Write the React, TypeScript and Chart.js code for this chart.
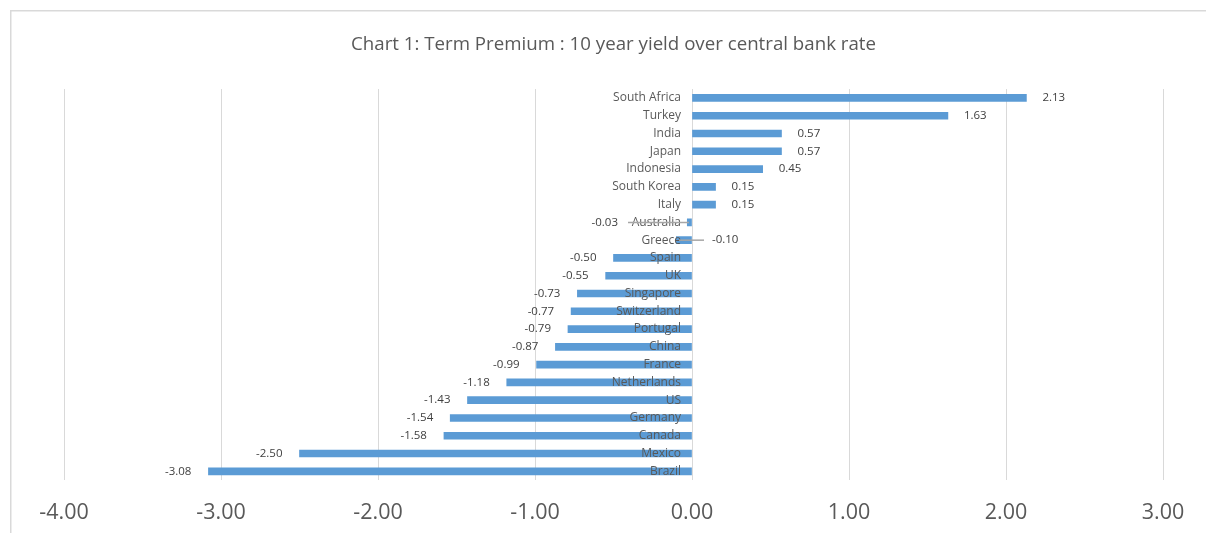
import React, { useEffect, useRef } from "react";
import { Chart, registerables } from "chart.js";

Chart.register(...registerables);

const TITLE = "Chart 1: Term Premium : 10 year yield over central bank rate";

const categories = [
  "South Africa", "Turkey", "India", "Japan", "Indonesia", "South Korea", "Italy",
  "Australia", "Greece", "Spain", "UK", "Singapore", "Switzerland", "Portugal",
  "China", "France", "Netherlands", "US", "Germany", "Canada", "Mexico", "Brazil",
];

const premiumValues = [
  2.13, 1.63, 0.57, 0.57, 0.45, 0.15, 0.15,
  -0.03, -0.1, -0.5, -0.55, -0.73, -0.77, -0.79,
  -0.87, -0.99, -1.18, -1.43, -1.54, -1.58, -2.5, -3.08,
];

const xTicks = [-4, -3, -2, -1, 0, 1, 2, 3];

const FONT = "'Open Sans', 'Liberation Sans', sans-serif";
const TEXT = "#595959";
const LABEL = "#404040";

// labels that were moved off their bar, with a leader line (offset from zero in px)
const movedLabels: Record<string, { x: number; align: CanvasTextAlign; lineFrom: number; lineTo: number }> = {
  Australia: { x: -74, align: "right", lineFrom: -64, lineTo: -3 },
  Greece: { x: 20, align: "left", lineFrom: -13, lineTo: 12 },
};

const framePlugin = {
  id: "framePlugin",
  beforeDraw(chart: any) {
    const { ctx, width, height } = chart;
    ctx.save();
    ctx.fillStyle = "#ffffff";
    ctx.fillRect(0, 0, width, height);
    ctx.strokeStyle = "#d9d9d9";
    ctx.lineWidth = 1.5;
    ctx.beginPath();
    ctx.moveTo(10.75, height + 5);
    ctx.lineTo(10.75, 10.75);
    ctx.lineTo(width + 5, 10.75);
    ctx.stroke();
    ctx.restore();
  },
};

const labelPlugin = {
  id: "labelPlugin",
  afterDatasetsDraw(chart: any) {
    const { ctx } = chart;
    const xs = chart.scales.x;
    const ys = chart.scales.y;
    const zero = xs.getPixelForValue(0);
    ctx.save();
    ctx.textBaseline = "middle";
    // category labels next to zero line
    ctx.font = `12px ${FONT}`;
    ctx.fillStyle = TEXT;
    ctx.textAlign = "right";
    categories.forEach((c, i) => {
      ctx.fillText(c, zero - 11, ys.getPixelForValue(i));
    });
    // value labels
    ctx.font = `11.5px ${FONT}`;
    premiumValues.forEach((v, i) => {
      const y = ys.getPixelForValue(i);
      const xe = xs.getPixelForValue(v);
      const txt = v.toFixed(2);
      const moved = movedLabels[categories[i]];
      ctx.fillStyle = LABEL;
      if (moved) {
        ctx.textAlign = moved.align;
        ctx.fillText(txt, zero + moved.x, y);
        ctx.strokeStyle = "#a6a6a6";
        ctx.lineWidth = 1.5;
        ctx.beginPath();
        ctx.moveTo(zero + moved.lineFrom, y);
        ctx.lineTo(zero + moved.lineTo, y);
        ctx.stroke();
      } else if (v >= 0) {
        ctx.textAlign = "left";
        ctx.fillText(txt, xe + 16, y);
      } else {
        ctx.textAlign = "right";
        ctx.fillText(txt, xe - 17, y);
      }
    });
    ctx.restore();
  },
};

export default function App() {
  const ref = useRef<HTMLCanvasElement | null>(null);
  useEffect(() => {
    if (!ref.current) return;
    const chart = new Chart(ref.current, {
      type: "bar",
      data: {
        labels: categories,
        datasets: [
          {
            data: premiumValues,
            backgroundColor: "#5b9bd5",
            barThickness: 7,
          },
        ],
      },
      options: {
        indexAxis: "y",
        animation: false,
        responsive: false,
        maintainAspectRatio: false,
        layout: { padding: { left: 64, right: 43, top: 0, bottom: 0 } },
        plugins: {
          legend: { display: false },
          tooltip: { enabled: false },
          title: {
            display: true,
            text: TITLE,
            color: TEXT,
            font: { family: FONT, size: 18.7, weight: "normal" },
            padding: { top: 33, bottom: 33.6 },
          },
        },
        scales: {
          x: {
            min: xTicks[0],
            max: xTicks[xTicks.length - 1],
            afterBuildTicks: (scale: any) => {
              scale.ticks = xTicks.map((v) => ({ value: v }));
            },
            grid: { color: "#d9d9d9", lineWidth: 1, drawTicks: false },
            border: { display: false },
            ticks: {
              color: TEXT,
              font: { family: FONT, size: 21.5 },
              padding: 20,
              callback: (v: any) => Number(v).toFixed(2),
            },
          },
          y: {
            display: false,
            grid: { display: false },
          },
        },
      },
      plugins: [framePlugin, labelPlugin],
    });
    return () => chart.destroy();
  }, []);
  return (
    <div style={{ position: "fixed", left: 0, top: 0, width: 1206, height: 533, background: "#fff", overflow: "hidden" }}>
      <canvas ref={ref} width={1206} height={546} style={{ position: "absolute", left: 0, top: 0 }} />
    </div>
  );
}
